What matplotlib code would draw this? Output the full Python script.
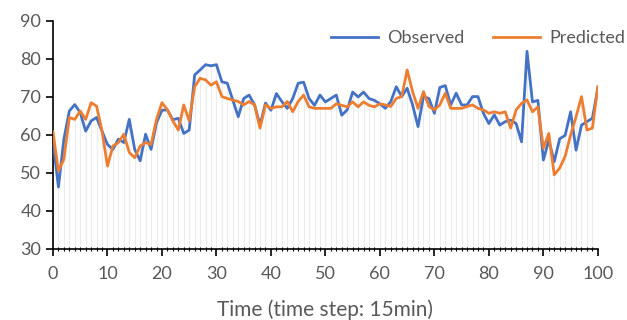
import numpy as np
import matplotlib
matplotlib.use("Agg")
import matplotlib.pyplot as plt
from matplotlib.ticker import MultipleLocator

OUT_PATH = "out.png"

STEPS = list(range(0, 101))

OBSERVED = [
    58.5, 46.3, 58.9, 66.3, 68.0, 65.9, 61.0, 63.7, 64.6, 61.0,
    57.5, 56.2, 58.9, 58.0, 64.1, 56.2, 53.2, 60.2, 56.2, 63.2,
    66.5, 66.6, 64.0, 64.4, 60.4, 61.3, 75.8, 77.1, 78.5, 78.2,
    78.5, 74.0, 73.6, 69.2, 64.8, 69.6, 70.5, 67.9, 62.6, 68.4,
    66.5, 70.9, 68.8, 67.0, 69.6, 73.6, 73.9, 69.6, 67.8, 70.5,
    68.7, 69.6, 70.5, 65.2, 66.6, 71.3, 70.0, 71.3, 69.6, 69.1,
    68.2, 67.0, 68.8, 72.7, 70.1, 72.3, 67.9, 62.2, 70.1, 69.6,
    65.7, 72.5, 73.0, 67.9, 71.0, 67.9, 67.9, 70.1, 70.1, 65.7,
    63.0, 65.3, 62.6, 63.5, 63.9, 63.0, 58.2, 82.0, 68.7, 69.1,
    53.4, 58.6, 53.0, 59.0, 59.9, 66.1, 56.0, 62.6, 63.5, 64.4,
    72.3,
]

PREDICTED = [
    60.8, 50.5, 53.6, 64.6, 64.1, 66.3, 64.1, 68.5, 67.6, 61.0,
    51.8, 57.1, 58.0, 60.2, 55.4, 54.0, 57.1, 58.0, 57.5, 64.1,
    68.5, 66.6, 63.7, 61.3, 67.9, 63.7, 72.7, 74.9, 74.5, 73.1,
    74.0, 70.1, 69.6, 69.2, 68.8, 67.9, 68.8, 67.9, 61.8, 67.9,
    67.0, 67.4, 67.4, 68.8, 66.1, 68.8, 70.5, 67.4, 67.0, 67.0,
    67.0, 67.0, 68.2, 67.8, 67.4, 68.7, 67.4, 68.7, 67.8, 67.4,
    68.2, 67.9, 67.5, 69.6, 70.1, 77.1, 71.4, 67.0, 71.4, 67.5,
    66.6, 67.9, 71.0, 67.0, 67.0, 67.0, 67.5, 67.9, 67.0, 66.6,
    65.7, 66.1, 65.7, 66.1, 61.8, 66.6, 68.3, 69.2, 66.1, 67.4,
    56.5, 60.4, 49.5, 51.3, 54.4, 60.0, 64.8, 70.1, 61.3, 61.8,
    72.7,
]

BLUE   = "#4472C4"
ORANGE = "#ED7D31"
GREY   = "#595959"


def plot():
    plt.rcParams["font.family"] = ["Lato", "DejaVu Sans"]
    fig = plt.figure(figsize=(6.27, 3.2), dpi=100)
    ax  = fig.add_axes([0.0845, 0.222, 0.869, 0.7125])

    x   = np.array(STEPS)
    obs = np.array(OBSERVED)
    pre = np.array(PREDICTED)

    # drop lines from the axis up to the higher series
    ax.vlines(x, 30, np.maximum(obs, pre), color="#ececec", lw=0.8, zorder=1)

    ax.plot(x, obs, color=BLUE, lw=2.0, label="Observed", zorder=3)
    ax.plot(x, pre, color=ORANGE, lw=2.0, label="Predicted", zorder=4)

    ax.set_xlim(0, 100)
    ax.set_ylim(30, 90)
    ax.xaxis.set_major_locator(MultipleLocator(10))
    ax.xaxis.set_minor_locator(MultipleLocator(1))
    ax.yaxis.set_major_locator(MultipleLocator(10))

    for s in ["top", "right"]:
        ax.spines[s].set_visible(False)
    for s in ["left", "bottom"]:
        ax.spines[s].set_color("black")
        ax.spines[s].set_linewidth(1.2)

    ax.tick_params(axis="both", which="major", direction="out", length=5,
                   width=1.2, color="black", labelcolor=GREY, labelsize=13)
    ax.tick_params(axis="x", which="major", pad=7)
    ax.tick_params(axis="x", which="minor", direction="inout", length=2.5,
                   width=0.8, color="black")

    ax.set_xlabel("Time (time step: 15min)", color=GREY, fontsize=15, labelpad=13)

    leg = ax.legend(loc="upper right", ncol=2, frameon=False, fontsize=13,
                    handlelength=2.6, columnspacing=1.6, handletextpad=0.5,
                    bbox_to_anchor=(1.08, 1.03))
    for t in leg.get_texts():
        t.set_color(GREY)

    fig.savefig(OUT_PATH, dpi=100)
    plt.close(fig)


if __name__ == "__main__":
    plot()
